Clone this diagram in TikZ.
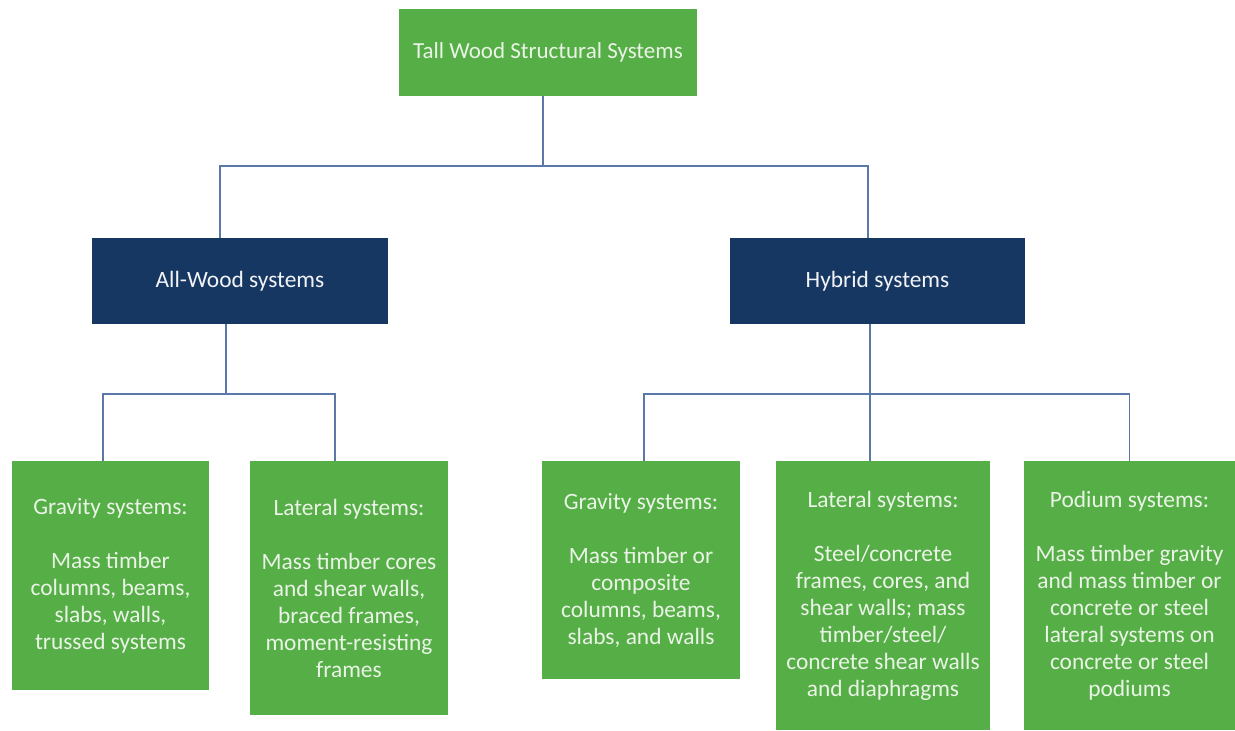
\documentclass[tikz,border=0pt]{standalone}
\usepackage{fontspec}
\setmainfont{Carlito}
\definecolor{boxgreen}{HTML}{56AE47}
\definecolor{boxblue}{HTML}{173763}
\definecolor{linkblue}{HTML}{5A78A8}
\definecolor{palegreen}{HTML}{EAF4E6}
\begin{document}
\begin{tikzpicture}[x=0.5pt, y=-0.5pt,
    greenbox/.style={rectangle, fill=boxgreen, text=palegreen, inner sep=0pt, outer sep=0pt, align=center, font=\fontsize{11.7}{13.5}\selectfont},
    bluebox/.style={rectangle, fill=boxblue, text=white!94!boxblue, inner sep=0pt, outer sep=0pt, align=center, font=\fontsize{11.7}{13.5}\selectfont},
    link/.style={draw=linkblue, line width=0.6pt}]
    \useasboundingbox (0,0) rectangle (1235,730);

    % Top level
    \node[greenbox, minimum width=149pt, minimum height=43.5pt, font=\fontsize{11.5}{13.5}\selectfont] (top) at (548, 52.5) {Tall Wood Structural Systems};

    % Second level
    \node[bluebox, minimum width=148pt, minimum height=43pt] (allwood) at (240, 281) {All-Wood systems};
    \node[bluebox, minimum width=147.5pt, minimum height=43pt] (hybrid) at (877.5, 281) {Hybrid systems};

    % All-wood branch
    \node[greenbox, minimum width=98.5pt, minimum height=114.5pt] (gravL) at (110.5, 575.5) {Gravity systems:\\[13.5pt]Mass timber\\columns, beams,\\slabs, walls,\\trussed systems};
    \node[greenbox, minimum width=99pt, minimum height=127pt] (latL) at (349, 588) {Lateral systems:\\[13.5pt]Mass timber cores\\and shear walls,\\braced frames,\\moment-resisting\\frames};

    % Hybrid branch
    \node[greenbox, minimum width=99pt, minimum height=109pt] (gravR) at (641, 570) {Gravity systems:\\[13.5pt]Mass timber or\\composite\\columns, beams,\\slabs, and walls};
    \node[greenbox, minimum width=107pt, minimum height=134.5pt] (latR) at (883, 595.5) {Lateral systems:\\[13.5pt]Steel/concrete\\frames, cores, and\\shear walls; mass\\timber/steel/\\concrete shear walls\\and diaphragms};
    \node[greenbox, minimum width=105.5pt, minimum height=134.5pt] (podium) at (1129.5, 595.5) {Podium systems:\\[13.5pt]Mass timber gravity\\and mass timber or\\concrete or steel\\lateral systems on\\concrete or steel\\podiums};

    % Connectors
    \draw[link] ([xshift=-2.5pt]top.south) -- ++(0,70) coordinate (tj);
    \draw[link] ([xshift=-10pt]allwood.north) |- (tj) -| ([xshift=-4.75pt]hybrid.north);

    \draw[link] ([xshift=-7pt]allwood.south) -- ++(0,70) coordinate (aj);
    \draw[link] ([xshift=-3.75pt]gravL.north) |- (aj) -| ([xshift=-7pt]latL.north);

    \draw[link] ([xshift=-3.75pt]hybrid.south) -- ++(0,70) coordinate (hj);
    \draw[link] ([xshift=1.5pt]gravR.north) |- (hj) -| (podium.north);
    \draw[link] (hj) -- (hj |- latR.north);
\end{tikzpicture}
\end{document}
